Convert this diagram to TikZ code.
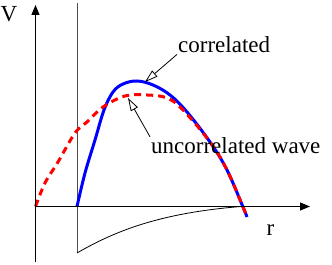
\documentclass[tikz,border=0pt]{standalone}
\usepackage{fontspec}
\setmainfont{Liberation Serif}
\newfontfamily\labelfont{Liberation Serif}
\usepackage{tikz}
\usetikzlibrary{arrows.meta, positioning}
\tikzstyle{txt} = [inner sep=1pt, font=\labelfont\fontsize{23}{27}\selectfont]
\tikzstyle{axis} = [draw, line width=1.1pt, -{Triangle[length=10pt, width=8pt]}]
\tikzstyle{pointer} = [draw, line width=0.8pt, -{Triangle[open, length=13pt, width=8pt]}]
\tikzstyle{wall} = [draw=black!70, line width=0.8pt]
\tikzstyle{corrwave} = [draw=blue, line width=3pt]
\tikzstyle{uncorrwave} = [draw=red, line width=3pt, dash pattern=on 7pt off 5pt]

\begin{document}
\begin{tikzpicture}[x=1pt, y=1pt]
    \useasboundingbox (0,0) rectangle (332,265);
    % Coordinates
    \coordinate (O) at (35.5,58.5);
    \coordinate (ybot) at (35.5,3);
    \coordinate (ytop) at (35.5,260);
    \coordinate (xend) at (310,58.5);
    \coordinate (walltop) at (77,262);
    \coordinate (wallbot) at (77,12);
    \coordinate (cpeak) at (145,183);
    \coordinate (upeak) at (128,167);

    % Curves
    \draw [wall] (walltop) -- (wallbot);
    \draw [line width=0.8pt] (wallbot) .. controls (115,34) and (160,52) .. (241,58.5);
    \draw [corrwave] plot [smooth, tension=0.6] coordinates {(77,58.5) (85,92) (95,125) (104,155) (113,173) (123,181) (137,184) (153,180) (170,170) (187,153) (210,123) (227,95) (243,58) (247,48)};
    \draw [uncorrwave] plot [smooth, tension=0.6] coordinates {(35.5,58.5) (45,82) (58,103) (75,132) (87,143) (103,158) (125,169) (147,170) (167,167) (183,155) (210,123) (227,95) (243,58) (247,48)};

    % Axes
    \path [axis] (ybot) -- (ytop);
    \path [axis] (O) -- (xend);

    % Nodes
    \node [txt, anchor=base] (vlab) at (9,243) {V};
    \node [txt, anchor=base] (rlab) at (270.5,29) {r};
    \node [txt, anchor=base west] (corr) at (177,212) {correlated};
    \node [txt, anchor=base west] (uncorr) at (150,111) {uncorrelated wave};

    % Edges
    \path [pointer] (corr.south west) -- (cpeak);
    \path [pointer] (uncorr.north west) -- (upeak);
\end{tikzpicture}
\end{document}
